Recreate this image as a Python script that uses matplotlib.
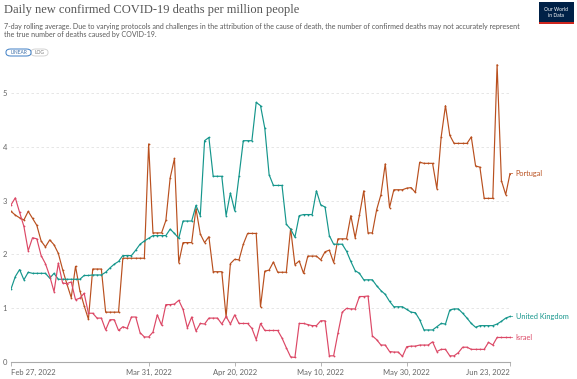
import matplotlib
matplotlib.use("Agg")
import matplotlib.pyplot as plt
from matplotlib.patches import FancyBboxPatch, Rectangle
import pandas as pd

start_date = "2022-02-27"
end_date = "2022-06-23"

portugal = [2.80, 2.73, 2.68, 2.64, 2.80, 2.67, 2.54, 2.25, 2.14, 2.27,
            2.18, 2.02, 1.72, 1.45, 1.20, 1.78, 1.33, 1.05, 0.80, 1.73,
            1.73, 1.73, 0.93, 0.93, 0.93, 0.93, 1.93, 1.93, 1.93, 1.93,
            1.93, 1.93, 4.05, 2.40, 2.40, 2.40, 2.63, 3.42, 3.78, 1.85,
            2.22, 2.22, 2.22, 2.85, 2.38, 2.22, 2.33, 1.68, 1.68, 1.68,
            0.84, 1.83, 1.91, 1.90, 2.19, 2.39, 2.39, 2.39, 1.03, 1.69,
            1.71, 1.86, 1.67, 1.67, 1.67, 2.48, 1.81, 1.88, 1.65, 1.97,
            1.97, 1.97, 1.90, 2.05, 2.08, 1.85, 2.29, 2.29, 2.29, 2.72,
            2.31, 2.73, 3.18, 2.40, 2.40, 2.83, 3.11, 3.68, 2.87, 3.20,
            3.20, 3.20, 3.23, 3.24, 3.15, 3.71, 3.69, 3.69, 3.69, 3.22,
            4.18, 4.76, 4.21, 4.06, 4.06, 4.06, 4.06, 4.18, 3.64, 3.62,
            3.04, 3.04, 3.04, 5.52, 3.37, 3.11, 3.50]

united_kingdom = [1.36, 1.59, 1.72, 1.53, 1.67, 1.65, 1.65, 1.65, 1.65, 1.56,
                  1.65, 1.54, 1.54, 1.54, 1.54, 1.54, 1.54, 1.61, 1.61, 1.62,
                  1.62, 1.62, 1.67, 1.75, 1.82, 1.87, 1.98, 1.98, 1.98, 2.08,
                  2.19, 2.25, 2.30, 2.35, 2.35, 2.35, 2.35, 2.47, 2.39, 2.30,
                  2.62, 2.62, 2.62, 2.91, 2.72, 4.11, 4.17, 3.45, 3.45, 3.45,
                  2.72, 3.14, 2.81, 3.45, 4.11, 4.11, 4.11, 4.82, 4.76, 4.34,
                  3.48, 3.28, 3.28, 3.28, 2.56, 2.47, 2.32, 2.72, 2.74, 2.74,
                  2.74, 3.18, 2.92, 2.88, 2.35, 2.19, 2.19, 2.19, 2.06, 1.87,
                  1.70, 1.65, 1.53, 1.53, 1.53, 1.42, 1.33, 1.26, 1.13, 1.03,
                  1.03, 1.03, 0.98, 0.93, 0.92, 0.79, 0.60, 0.60, 0.60, 0.66,
                  0.72, 0.71, 0.97, 0.99, 0.99, 0.91, 0.82, 0.72, 0.65, 0.68,
                  0.68, 0.68, 0.68, 0.71, 0.76, 0.82, 0.85]

israel = [2.92, 3.05, 2.78, 2.52, 2.07, 2.31, 2.29, 1.98, 1.83, 1.60,
          1.31, 1.84, 1.47, 1.46, 1.49, 1.16, 1.19, 1.28, 0.91, 0.91,
          0.82, 0.82, 0.60, 0.79, 0.79, 0.59, 0.66, 0.63, 0.84, 0.84,
          0.55, 0.47, 0.47, 0.56, 0.88, 0.69, 1.07, 1.07, 1.08, 1.15,
          0.98, 0.64, 0.84, 0.58, 0.72, 0.71, 0.82, 0.82, 0.82, 0.71,
          0.85, 0.71, 0.88, 0.72, 0.72, 0.72, 0.63, 0.42, 0.72, 0.59,
          0.59, 0.59, 0.59, 0.45, 0.27, 0.10, 0.09, 0.72, 0.72, 0.70,
          0.68, 0.68, 0.77, 0.77, 0.12, 0.12, 0.54, 0.93, 1.00, 0.99,
          0.99, 1.22, 1.22, 1.23, 0.49, 0.42, 0.32, 0.32, 0.20, 0.19,
          0.19, 0.11, 0.29, 0.30, 0.30, 0.32, 0.32, 0.32, 0.38, 0.20,
          0.24, 0.24, 0.12, 0.12, 0.18, 0.28, 0.28, 0.24, 0.24, 0.24,
          0.24, 0.37, 0.32, 0.46, 0.46, 0.46, 0.46]

series_names = ["Portugal", "United Kingdom", "Israel"]
tick_dates = ["2022-02-27", "2022-03-31", "2022-04-20", "2022-05-10", "2022-05-30", "2022-06-23"]
tick_labels = ["Feb 27, 2022", "Mar 31, 2022", "Apr 20, 2022", "May 10, 2022", "May 30, 2022", "Jun 23, 2022"]
y_ticks = [0, 1, 2, 3, 4, 5]

colors = {"Portugal": "#B9501F", "United Kingdom": "#15968C", "Israel": "#DC4866"}

dates = pd.date_range(start_date, end_date, freq="D")
data = {"Portugal": portugal, "United Kingdom": united_kingdom, "Israel": israel}

W, H = 577, 379
fig = plt.figure(figsize=(W / 100, H / 100), dpi=100)
fig.patch.set_facecolor("white")

left = 11 / W
right = 510 / W
bottom = (H - 362.3) / H
ymax = 5.6
top_px = 362.3 - ymax * 53.92
top = (H - top_px) / H
ax = fig.add_axes([left, bottom, right - left, top - bottom])
ax.set_facecolor("white")

for name in series_names:
    ax.plot(dates, data[name], color=colors[name], lw=0.85, marker="o",
            markersize=1.3, markeredgewidth=0, zorder=3)

ax.set_xlim(pd.Timestamp(start_date), pd.Timestamp(end_date))
ax.set_ylim(0, ymax)

for s in ["top", "right", "left"]:
    ax.spines[s].set_visible(False)
ax.spines["bottom"].set_color("#aaaaaa")
ax.spines["bottom"].set_linewidth(0.8)

ax.set_yticks(y_ticks)
ax.set_yticklabels([str(v) for v in y_ticks])
ax.tick_params(axis="y", length=0, pad=3, labelsize=5.5, labelcolor="#666666")
for v in y_ticks[1:]:
    ax.axhline(v, color="#e2e2e2", lw=0.6, ls=(0, (3, 3)), zorder=1)

ax.set_xticks([pd.Timestamp(d) for d in tick_dates])
ax.set_xticklabels(tick_labels)
ax.tick_params(axis="x", length=3, width=0.6, color="#aaaaaa", pad=1.5,
               labelsize=5.5, labelcolor="#666666")
xl = ax.get_xticklabels()
xl[0].set_ha("left")
xl[-1].set_ha("right")
for lab in ax.get_xticklabels() + ax.get_yticklabels():
    lab.set_fontfamily("Lato")

# end labels
for name in series_names:
    yv = data[name][-1]
    ax.annotate(name, xy=(dates[-1], yv), xytext=(4, 0),
                textcoords="offset points", va="center", ha="left",
                fontsize=5.3, family="Lato", color=colors[name],
                annotation_clip=False,
                arrowprops=dict(arrowstyle="-", lw=0.5, color=colors[name],
                                shrinkA=0, shrinkB=0))

# title and subtitle
fig.text(4 / W, 1 - 4 / H, "Daily new confirmed COVID-19 deaths per million people",
         ha="left", va="top", fontsize=9, family="Liberation Serif", color="#555555")
fig.text(4 / W, 1 - 23 / H,
         "7-day rolling average. Due to varying protocols and challenges in the attribution of the cause of death, the number of confirmed deaths may not accurately represent\nthe true number of deaths caused by COVID-19.",
         ha="left", va="top", fontsize=5.1, family="Lato", color="#5b5b5b", linespacing=1.15)

# LINEAR / LOG toggle
lin = FancyBboxPatch((6 / W, 1 - 56 / H), 25 / W, 7 / H,
                     boxstyle="round,pad=0,rounding_size=0.008",
                     transform=fig.transFigure, fc="white", ec="#3c7dc4", lw=0.7)
logb = FancyBboxPatch((31 / W, 1 - 56 / H), 17 / W, 7 / H,
                      boxstyle="round,pad=0,rounding_size=0.008",
                      transform=fig.transFigure, fc="white", ec="#cccccc", lw=0.6)
fig.patches.extend([logb, lin])
fig.text(18.5 / W, 1 - 52.5 / H, "LINEAR", ha="center", va="center",
         fontsize=3.5, family="Lato", color="#3c6ea8")
fig.text(39.5 / W, 1 - 52.5 / H, "LOG", ha="center", va="center",
         fontsize=3.5, family="Lato", color="#777777")

# logo
logo = Rectangle((539 / W, 1 - 24 / H), 35 / W, 22 / H, transform=fig.transFigure,
                 fc="#002147", ec="none")
logo_line = Rectangle((539 / W, 1 - 24 / H), 35 / W, 1.6 / H, transform=fig.transFigure,
                      fc="#ce261e", ec="none")
fig.patches.extend([logo, logo_line])
fig.text(556.5 / W, 1 - 12.5 / H, "Our World\nin Data", ha="center", va="center",
         fontsize=3.6, family="Lato", color="white", linespacing=1.1)

fig.savefig("out.png", dpi=100)
